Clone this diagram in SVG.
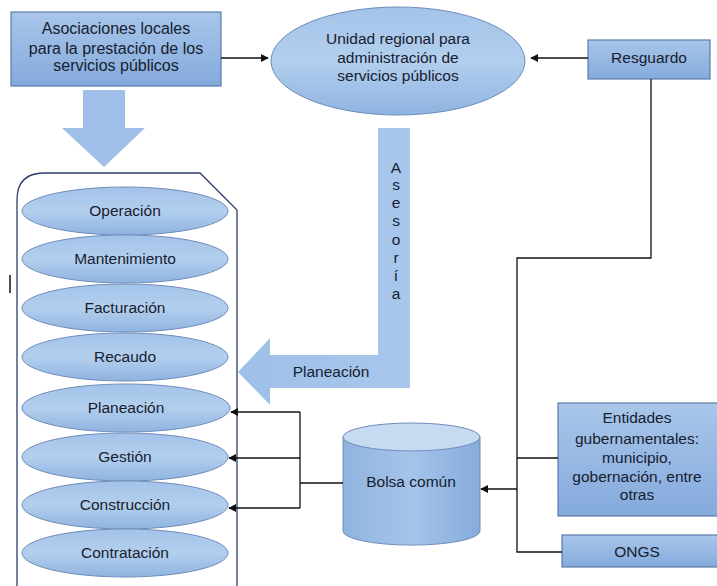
<svg xmlns="http://www.w3.org/2000/svg" width="717" height="586" viewBox="0 0 717 586">
<defs>
<linearGradient id="gBox" x1="0" y1="0" x2="0" y2="1">
<stop offset="0" stop-color="#a9c6ea"/>
<stop offset="1" stop-color="#84aadc"/>
</linearGradient>
<linearGradient id="gEll" x1="0" y1="0" x2="0" y2="1">
<stop offset="0" stop-color="#a4c3e9"/>
<stop offset="0.5" stop-color="#b3cfee"/>
<stop offset="1" stop-color="#8fb3e0"/>
</linearGradient>
<linearGradient id="gArrow" x1="0" y1="0" x2="1" y2="0">
<stop offset="0" stop-color="#9ebfe8"/>
<stop offset="1" stop-color="#a9c7ec"/>
</linearGradient>
<linearGradient id="gCyl" x1="0" y1="0" x2="1" y2="0">
<stop offset="0" stop-color="#8fb3df"/>
<stop offset="0.5" stop-color="#a6c4ea"/>
<stop offset="1" stop-color="#86abdb"/>
</linearGradient>
<marker id="ah" viewBox="0 0 10 10" refX="9" refY="5" markerWidth="8" markerHeight="8" markerUnits="userSpaceOnUse" orient="auto">
<path d="M0,0 L10,5 L0,10 z" fill="#111"/>
</marker>
<style>
.box{fill:url(#gBox);stroke:#5b7bab;stroke-width:1.2}
.ell{fill:url(#gEll);stroke:#6f8dba;stroke-width:1}
.t{font-family:"Liberation Sans",Arial,sans-serif;font-size:15.5px;fill:#17202e;text-anchor:middle}
.c{fill:none;stroke:#111;stroke-width:1.3}
</style>
</defs>

<g id="asociaciones">
<rect class="box" x="11" y="12" width="210" height="74"/>
<text class="t" style="font-size:16px" x="116" y="34">Asociaciones locales</text>
<text class="t" style="font-size:16px" x="116" y="54">para la prestación de los</text>
<text class="t" style="font-size:16px" x="116" y="71">servicios públicos</text>
</g>

<g id="flecha-abajo">
<polygon points="83,90 125,90 125,128 145,128 104,167 62,128 83,128" fill="#9fbfe8"/>
</g>

<g id="unidad">
<ellipse class="ell" cx="398" cy="61" rx="127" ry="54"/>
<text class="t" x="398" y="44">Unidad regional para</text>
<text class="t" x="398" y="63">administración de</text>
<text class="t" x="398" y="81">servicios públicos</text>
</g>

<g id="resguardo">
<rect class="box" x="588" y="40" width="122" height="39"/>
<text class="t" x="649" y="63">Resguardo</text>
</g>

<g id="asesoria">
<polygon points="378,128 410,128 410,388 270,388 270,405 238,372 270,338 270,355 378,355" fill="url(#gArrow)"/>
<text class="t" x="396" y="173">A</text>
<text class="t" x="396" y="190">s</text>
<text class="t" x="396" y="208">e</text>
<text class="t" x="396" y="226">s</text>
<text class="t" x="396" y="245">o</text>
<text class="t" x="396" y="263">r</text>
<text class="t" x="396" y="281">í</text>
<text class="t" x="396" y="299">a</text>
<text class="t" x="331" y="377">Planeación</text>
</g>

<g id="contenedor">
<path d="M17,590 L17,200 Q17,173 44,173 L200,173 L237,210 L237,590" fill="none" stroke="#2c3d6b" stroke-width="1.3"/>
<line x1="10" y1="275" x2="10" y2="293" stroke="#111" stroke-width="1.5"/>
</g>

<g id="operacion"><ellipse class="ell" cx="125" cy="211" rx="103" ry="24"/><text class="t" x="125" y="216">Operación</text></g>
<g id="mantenimiento"><ellipse class="ell" cx="125" cy="259" rx="103" ry="24"/><text class="t" x="125" y="264">Mantenimiento</text></g>
<g id="facturacion"><ellipse class="ell" cx="125" cy="308" rx="103" ry="24"/><text class="t" x="125" y="313">Facturación</text></g>
<g id="recaudo"><ellipse class="ell" cx="125" cy="357" rx="103" ry="24"/><text class="t" x="125" y="362">Recaudo</text></g>
<g id="planeacion"><ellipse class="ell" cx="126" cy="408" rx="104" ry="24"/><text class="t" x="126" y="413">Planeación</text></g>
<g id="gestion"><ellipse class="ell" cx="125" cy="457" rx="103" ry="24"/><text class="t" x="125" y="462">Gestión</text></g>
<g id="construccion"><ellipse class="ell" cx="125" cy="505" rx="103" ry="24"/><text class="t" x="125" y="510">Construcción</text></g>
<g id="contratacion"><ellipse class="ell" cx="125" cy="553" rx="103" ry="24"/><text class="t" x="125" y="558">Contratación</text></g>

<g id="bolsa">
<path d="M343,437 L343,531 A68,14 0 0 0 480,531 L480,437 Z" fill="url(#gCyl)" stroke="#6f8dba" stroke-width="1"/>
<ellipse cx="411.5" cy="437" rx="68.5" ry="14" fill="#c6daf2" stroke="#6f8dba" stroke-width="1"/>
<text class="t" x="411" y="487">Bolsa común</text>
</g>

<g id="entidades">
<rect class="box" x="558" y="403" width="160" height="113"/>
<text class="t" x="637" y="423">Entidades</text>
<text class="t" x="637" y="444">gubernamentales:</text>
<text class="t" x="637" y="463">municipio,</text>
<text class="t" x="637" y="482">gobernación, entre</text>
<text class="t" x="637" y="500">otras</text>
</g>

<g id="ongs">
<rect class="box" x="562" y="535" width="156" height="32"/>
<text class="t" x="637" y="557">ONGS</text>
</g>

<g id="conectores">
<path class="c" d="M221,58 L268,58" marker-end="url(#ah)"/>
<path class="c" d="M588,58 L531,58" marker-end="url(#ah)"/>
<path class="c" d="M651,79 L651,258 L517,258 L517,552 L562,552"/>
<path class="c" d="M517,458 L558,458"/>
<path class="c" d="M517,489 L481,489" marker-end="url(#ah)"/>
<path class="c" d="M343,483 L300,483"/>
<path class="c" d="M300,412 L300,508"/>
<path class="c" d="M300,412 L231,412" marker-end="url(#ah)"/>
<path class="c" d="M300,458 L229,458" marker-end="url(#ah)"/>
<path class="c" d="M300,508 L229,508" marker-end="url(#ah)"/>
</g>
</svg>
